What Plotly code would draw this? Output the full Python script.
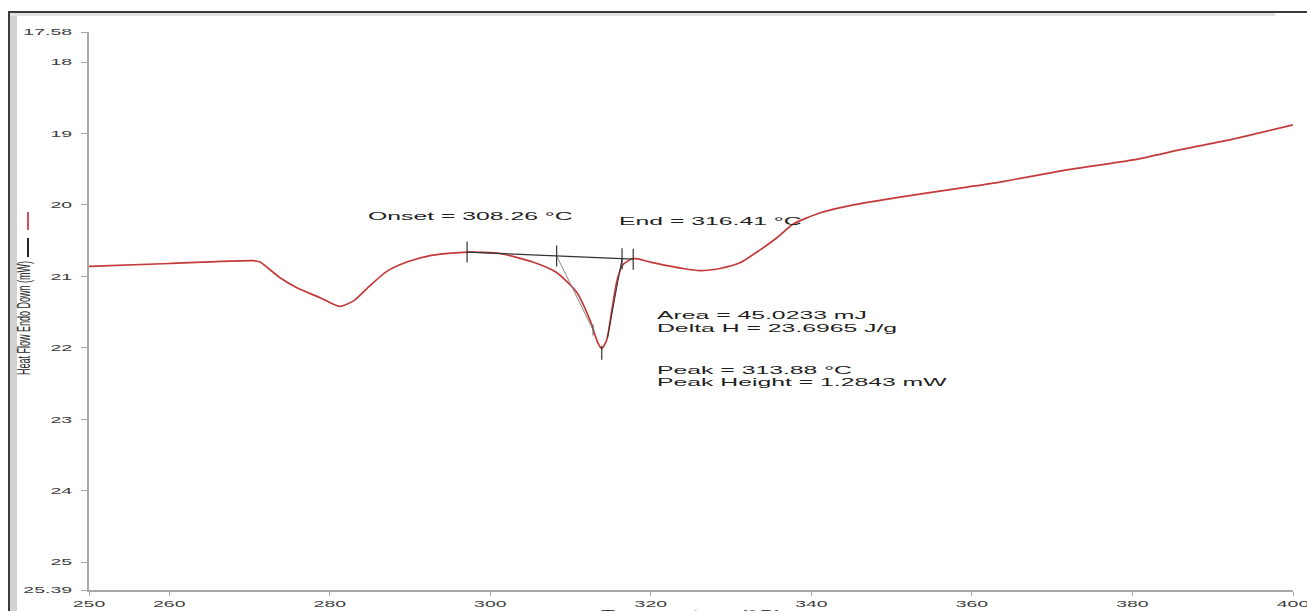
import numpy as np
import plotly.graph_objects as go

# ---------------- data ----------------
temperature_c = [250.0, 260.0, 270.4, 271.3, 273.8, 275.9, 278.8, 281.2, 283.0, 285.0,
                 287.1, 289.6, 292.5, 297.1, 301.2, 305.3, 308.3, 310.8, 312.4, 313.4,
                 313.88, 314.5, 315.2, 315.8, 316.5, 317.8, 319.9, 324.0, 326.1, 328.6,
                 331.1, 333.6, 335.7, 337.7, 341.1, 344.8, 351.0, 359.4, 363.5, 371.8,
                 380.1, 386.3, 392.5, 400.0]
heat_flow_mw = [20.86, 20.82, 20.78, 20.80, 21.02, 21.16, 21.30, 21.42, 21.34, 21.13,
                20.93, 20.80, 20.71, 20.66, 20.68, 20.80, 20.95, 21.23, 21.61, 21.93,
                22.01, 21.89, 21.43, 21.05, 20.84, 20.75, 20.80, 20.89, 20.92, 20.89,
                20.81, 20.63, 20.46, 20.27, 20.11, 20.01, 19.89, 19.75, 19.68, 19.51,
                19.37, 19.22, 19.08, 18.88]

baseline_temp = [297.1, 317.8]
baseline_hf = [20.66, 20.76]
baseline_tick_temp = [297.1, 308.26, 316.41, 317.8]

onset_tangent_temp = [308.26, 312.8]
onset_tangent_hf = [20.714, 21.75]
end_tangent_temp = [316.41, 314.6]
end_tangent_hf = [20.75, 21.86]

peak_temp = [313.88]
peak_hf = [22.07]

x_tick_vals = [250, 260, 280, 300, 320, 340, 360, 380, 400]
x_tick_text = ["250", "260", "280", "300", "320", "340", "360", "380", "400"]
y_tick_vals = [17.58, 18, 19, 20, 21, 22, 23, 24, 25, 25.39]
y_tick_text = ["17.58", "18", "19", "20", "21", "22", "23", "24", "25", "25.39"]

result_labels = ["Onset = 308.26 °C", "End = 316.41 °C", "Area = 45.0233 mJ",
                 "Delta H = 23.6965 J/g", "Peak = 313.88 °C", "Peak Height = 1.2843 mW"]
label_temp = [284.5, 315.8, 320.5, 320.5, 320.5, 320.5]
label_hf = [20.15, 20.22, 21.54, 21.72, 22.31, 22.48]

# ---------------- figure ----------------
W, H = 1307, 611
L, R, T, B = 89, 14, 32, 21
pw, ph = W - L - R, H - T - B


def px(xp):
    return (xp - L) / pw


def py(yp):
    return (H - B - yp) / ph


fig = go.Figure()
fig.add_trace(go.Scatter(x=temperature_c, y=heat_flow_mw, mode="lines",
                         line=dict(color="#c43a3a", width=1.7, shape="spline", smoothing=0.6),
                         hoverinfo="skip"))
fig.add_trace(go.Scatter(x=baseline_temp, y=baseline_hf, mode="lines",
                         line=dict(color="#333333", width=1.2), hoverinfo="skip"))
fig.add_trace(go.Scatter(x=onset_tangent_temp, y=onset_tangent_hf, mode="lines",
                         line=dict(color="#8a8a8a", width=1.0), hoverinfo="skip"))
fig.add_trace(go.Scatter(x=end_tangent_temp, y=end_tangent_hf, mode="lines",
                         line=dict(color="#3a2a2a", width=1.0), hoverinfo="skip"))
fig.add_trace(go.Scatter(x=baseline_tick_temp,
                         y=np.interp(baseline_tick_temp, baseline_temp, baseline_hf),
                         mode="markers",
                         marker=dict(symbol="line-ns-open", size=15, color="#333333",
                                     line=dict(width=1.2)), hoverinfo="skip"))
fig.add_trace(go.Scatter(x=peak_temp, y=peak_hf, mode="markers",
                         marker=dict(symbol="line-ns-open", size=10, color="#333333",
                                     line=dict(width=1.2)), hoverinfo="skip"))
fig.add_trace(go.Scatter(x=[onset_tangent_temp[1]], y=[onset_tangent_hf[1]], mode="markers",
                         marker=dict(symbol="line-ns-open", size=8, color="#555555",
                                     line=dict(width=1.0)), hoverinfo="skip"))

tick_font = dict(family="Liberation Sans, Arial, sans-serif", size=9.5, color="#3c3c3c")
fig.update_xaxes(range=[250, 400], tickvals=x_tick_vals, ticktext=x_tick_text,
                 showgrid=False, zeroline=False, showline=True, linecolor="#a8a8a8",
                 linewidth=2, ticks="outside", ticklen=4, tickcolor="#a8a8a8",
                 tickwidth=1, tickfont=tick_font)
fig.update_yaxes(range=[25.39, 17.58], tickvals=y_tick_vals, ticktext=y_tick_text,
                 showgrid=False, zeroline=False, showline=True, linecolor="#a8a8a8",
                 linewidth=2, ticks="outside", ticklen=6, tickcolor="#a8a8a8",
                 tickwidth=1, tickfont=tick_font, ticklabelstandoff=7)

ann_font = dict(family="Liberation Sans, Arial, sans-serif", size=11, color="#1e1e1e")
annotations = []
for txt, xv, yv in zip(result_labels, label_temp, label_hf):
    annotations.append(dict(x=xv, y=yv, xref="x", yref="y", text=txt, showarrow=False,
                            xanchor="left", yanchor="middle", align="left", font=ann_font))
annotations.append(dict(x=0.5, y=py(605.5), xref="paper", yref="paper",
                        text="Temperature (°C)", showarrow=False, xanchor="center",
                        yanchor="top", font=dict(family="Liberation Sans, Arial, sans-serif",
                                                 size=10.5, color="#1e1e1e")))
annotations.append(dict(x=px(24), y=py(318), xref="paper", yref="paper",
                        text="Heat Flow Endo Down (mW)", showarrow=False, textangle=-90,
                        xanchor="center", yanchor="middle",
                        font=dict(family="Liberation Sans, Arial, sans-serif",
                                  size=9.0, color="#2a2a2a")))

shapes = [
    # legend dashes next to the y-axis title
    dict(type="line", xref="paper", yref="paper", x0=px(28), x1=px(28), y0=py(212), y1=py(230),
         line=dict(color="#d4505a", width=2)),
    dict(type="line", xref="paper", yref="paper", x0=px(28), x1=px(28), y0=py(238), y1=py(257),
         line=dict(color="#222222", width=2)),
    # window frame
    dict(type="rect", xref="paper", yref="paper", x0=px(10), x1=px(17), y0=py(W), y1=py(13),
         fillcolor="#d2d2d2", line=dict(width=0), layer="below"),
    dict(type="rect", xref="paper", yref="paper", x0=px(10), x1=px(1275), y0=py(16), y1=py(13),
         fillcolor="#e2e2e2", line=dict(width=0), layer="below"),
    dict(type="line", xref="paper", yref="paper", x0=px(8), x1=px(W + 2), y0=py(12), y1=py(12),
         line=dict(color="#3a3a3a", width=2)),
    dict(type="line", xref="paper", yref="paper", x0=px(9), x1=px(9), y0=py(12), y1=py(H + 2),
         line=dict(color="#3a3a3a", width=2)),
]

fig.update_layout(width=W, height=H, margin=dict(l=L, r=R, t=T, b=B, autoexpand=False),
                  paper_bgcolor="white", plot_bgcolor="white", showlegend=False,
                  annotations=annotations, shapes=shapes)

post_js = """
document.body.style.margin = '0';
document.body.style.overflow = 'hidden';
var gd = document.getElementById('{plot_id}');
gd.querySelectorAll('.xtick text, .ytick text').forEach(function(t){
  var len = t.getComputedTextLength();
  t.setAttribute('textLength', (len * 2.05).toFixed(1));
  t.setAttribute('lengthAdjust', 'spacingAndGlyphs');
});
gd.querySelectorAll('text.annotation-text').forEach(function(t){
  if (t.textContent.indexOf('Heat Flow') >= 0) {
    var bb = t.getBBox();
    var cy = bb.y + bb.height / 2;
    var old = t.getAttribute('transform') || '';
    t.setAttribute('transform', old + ' translate(0,' + cy + ') scale(1,2.1) translate(0,' + (-cy) + ')');
    return;
  }
  var len = t.getComputedTextLength();
  t.setAttribute('textLength', (len * 2.25).toFixed(1));
  t.setAttribute('lengthAdjust', 'spacingAndGlyphs');
});
"""

fig.write_html("out.html", config={"displayModeBar": False}, post_script=post_js)
